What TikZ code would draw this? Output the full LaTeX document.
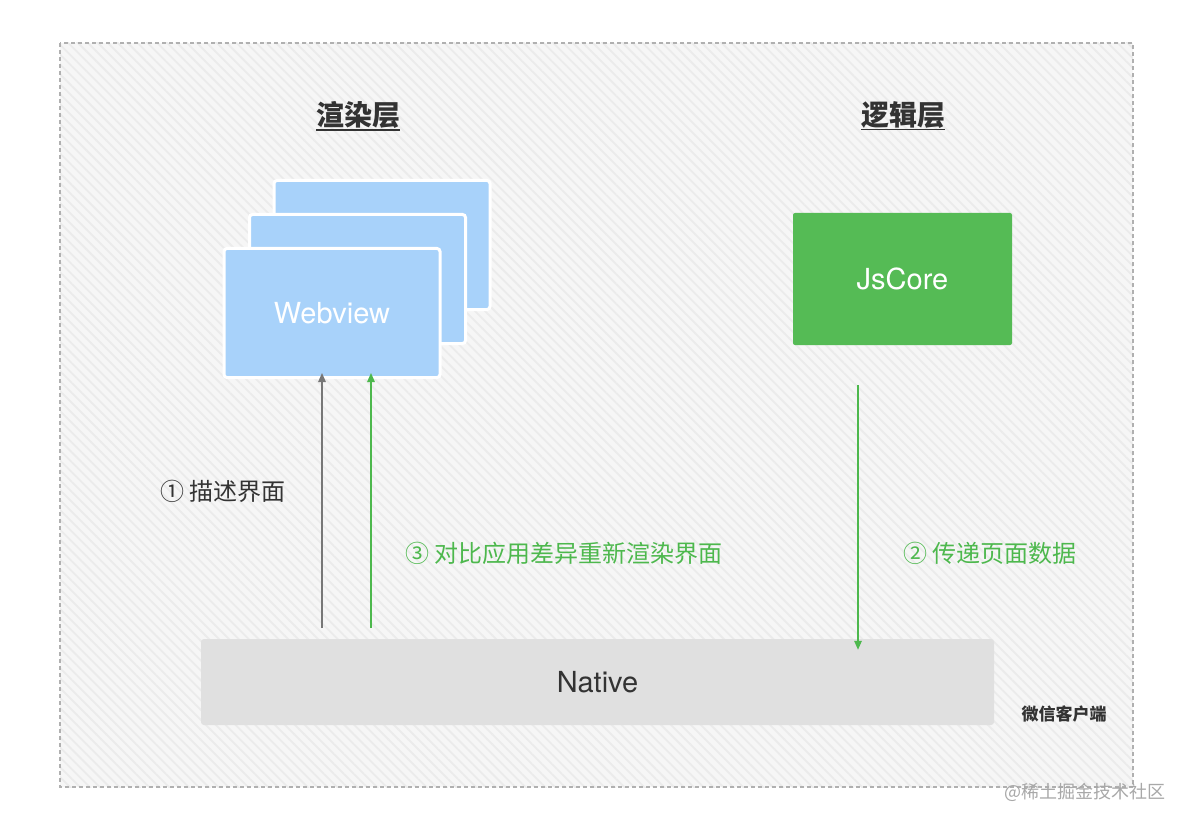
\documentclass[tikz,border=0pt]{standalone}
\usepackage{fontspec}
\setmainfont{TeX Gyre Heros}
\newfontfamily\cjk{Noto Sans CJK SC}
\usetikzlibrary{arrows.meta,patterns.meta}
\definecolor{bgc}{HTML}{F6F6F6}
\definecolor{stripe}{HTML}{EBEBEB}
\definecolor{dashc}{HTML}{B0B0B0}
\definecolor{txt}{HTML}{333333}
\definecolor{wvblue}{HTML}{A8D2FA}
\definecolor{jsgreen}{HTML}{55BB55}
\definecolor{argreen}{HTML}{4DB84D}
\definecolor{argray}{HTML}{777777}
\definecolor{natgray}{HTML}{E0E0E0}
\definecolor{wm}{HTML}{A8A8A8}
\tikzset{
  wvbox/.style={draw=white, line width=3pt, fill=wvblue, rounded corners=3pt,
    minimum width=216pt, minimum height=129pt, inner sep=0pt},
  title/.style={font=\cjk\bfseries\fontsize{28}{30}\selectfont, text=txt, inner sep=0pt},
  lbl/.style={font=\cjk\fontsize{24}{27}\selectfont, inner sep=0pt, anchor=west},
  arr/.style={line width=1.4pt, -{Triangle[length=9pt,width=7.5pt]}},
}
\begin{document}
\begin{tikzpicture}[x=1pt,y=-1pt]
\useasboundingbox (0,0) rectangle (1188,826);
\fill[white] (0,0) rectangle (1188,826);
\fill[bgc] (60,43) rectangle (1133,787);
\fill[pattern={Lines[angle=-45,distance=7pt,line width=1.8pt]}, pattern color=stripe] (60,43) rectangle (1133,787);
\draw[dashc, line width=1.2pt, dash pattern=on 4pt off 3pt] (60,43) rectangle (1133,787);

% titles
\node[title] (t1) at (358,115) {渲染层};
\draw[txt, line width=1.6pt] ([yshift=-1pt]t1.south west) -- ([yshift=-1pt]t1.south east);
\node[title] (t2) at (903,115) {逻辑层};
\draw[txt, line width=1.6pt] ([yshift=-1pt]t2.south west) -- ([yshift=-1pt]t2.south east);

% webview stack
\node[wvbox] (wv3) at (382,245) {};
\node[wvbox] (wv2) at (357.5,279) {};
\node[wvbox, text=white, font=\fontsize{29}{32}\selectfont] (wv) at (332,313) {Webview};

% jscore
\node[fill=jsgreen, rounded corners=2pt, minimum width=219pt, minimum height=132pt,
  text=white, font=\fontsize{29}{32}\selectfont] (js) at (902.5,279) {JsCore};

% native
\node[fill=natgray, rounded corners=3pt, minimum width=793pt, minimum height=86pt,
  text=txt, font=\fontsize{29}{32}\selectfont] (nat) at (597.5,682) {Native};
\node[font=\cjk\bfseries\fontsize{17}{20}\selectfont, text=txt] (client) at (1064,714) {微信客户端};

% arrows
\coordinate (a1s) at (322,628);
\coordinate (a3s) at (371,628);
\coordinate (a2s) at (858,385);
\draw[arr, argray] (a1s) -- ([yshift=6pt]a1s |- wv.south);
\draw[arr, argreen] (a3s) -- ([yshift=6pt]a3s |- wv.south);
\draw[arr, argreen] (a2s) -- ([yshift=-11pt]a2s |- nat.north);

% labels
\node[lbl, text=txt] (l1) at (160,491) {① 描述界面};
\node[lbl, text=argreen] (l3) at (405,553) {③ 对比应用差异重新渲染界面};
\node[lbl, text=argreen] (l2) at (903,553) {② 传递页面数据};

% watermark
\node[font=\cjk\fontsize{18}{20}\selectfont, text=wm] (wmk) at (1085,792) {@稀土掘金技术社区};
\end{tikzpicture}
\end{document}
